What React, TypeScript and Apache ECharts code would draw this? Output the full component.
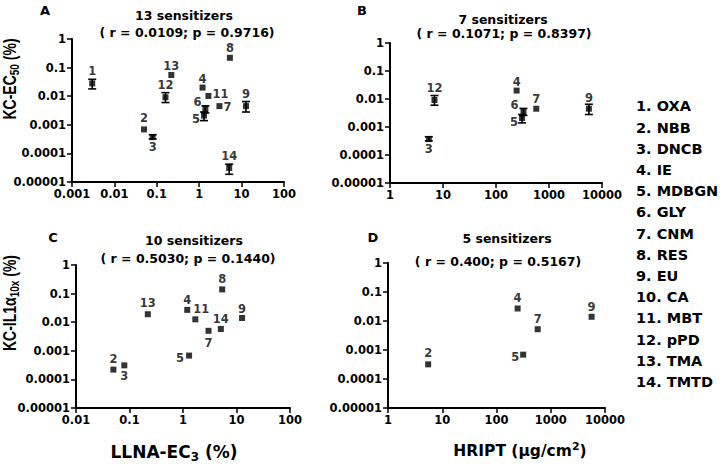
import React, { useEffect, useRef } from "react";
import * as echarts from "echarts";

// ---------- data ----------
const compoundNames = ["OXA", "NBB", "DNCB", "IE", "MDBGN", "GLY", "CNM", "RES", "EU", "CA", "MBT", "pPD", "TMA", "TMTD"];

const llnaTicks = ["0.001", "0.01", "0.1", "1", "10", "100"];
const llnaTicksC = ["0.01", "0.1", "1", "10", "100"];
const hriptTicks = ["1", "10", "100", "1000", "10000"];
const kcTicks = ["0.00001", "0.0001", "0.001", "0.01", "0.1", "1"];

// Panel A: LLNA-EC3 vs KC-EC50
const aIds = [1, 2, 3, 4, 5, 6, 7, 8, 9, 11, 12, 13, 14];
const aLLNA = [0.003, 0.05, 0.08, 1.2, 1.3, 1.4, 3.0, 5.3, 12.7, 1.65, 0.16, 0.22, 5.1];
const aKC = [0.028, 0.00069, 0.00037, 0.02, 0.0021, 0.0036, 0.0045, 0.22, 0.0045, 0.0102, 0.0092, 0.055, 0.000031];
const aErrLow = [0.018, null, 0.00032, null, 0.0014, 0.0026, null, null, 0.0028, null, 0.006, null, 0.0000186];
const aErrHigh = [0.039, null, 0.00045, null, 0.0028, 0.0046, null, null, 0.0065, null, 0.0133, null, 0.000042];

// Panel B: HRIPT vs KC-EC50
const bIds = [3, 12, 4, 5, 6, 7, 9];
const bHRIPT = [5.4, 6.9, 245, 310, 330, 575, 5660];
const bKC = [0.00037, 0.0092, 0.02, 0.0021, 0.0036, 0.0045, 0.0045];
const bErrLow = [0.00032, 0.006, null, 0.0014, 0.0026, null, 0.0028];
const bErrHigh = [0.00045, 0.0133, null, 0.0028, 0.0046, null, 0.0065];

// Panel C: LLNA-EC3 vs KC-IL1a10x
const cIds = [2, 3, 13, 4, 11, 5, 7, 14, 8, 9];
const cLLNA = [0.05, 0.08, 0.22, 1.2, 1.7, 1.3, 3.0, 5.1, 5.4, 12.7];
const cIL1 = [0.00022, 0.00031, 0.019, 0.027, 0.0126, 0.00068, 0.005, 0.0058, 0.14, 0.014];

// Panel D: HRIPT vs KC-IL1a10x
const dIds = [2, 4, 5, 7, 9];
const dHRIPT = [5.5, 245, 310, 575, 5660];
const dIL1 = [0.00032, 0.027, 0.00069, 0.0052, 0.014];

const panelLetters = ["A", "B", "C", "D"];
const titleLine1 = ["13 sensitizers", "7 sensitizers", "10 sensitizers", "5 sensitizers"];
const titleLine2 = ["( r = 0.0109; p = 0.9716)", "( r = 0.1071; p = 0.8397)", "( r = 0.5030; p = 0.1440)", "( r = 0.400; p = 0.5167)"];

// ---------- layout ----------
const FONT = "'DejaVu Sans', sans-serif";
const ARIAL = "'Liberation Sans', Arial, sans-serif";
const GRIDS = [
  { left: 72, top: 39, width: 212, height: 143 },
  { left: 390, top: 43, width: 212, height: 140 },
  { left: 76, top: 265, width: 214, height: 143 },
  { left: 388, top: 263, width: 217, height: 145 },
];
const LETTER_POS = [[45, 10], [362, 10], [53, 237], [373, 237]];
const TITLE1_POS = [[184, 15], [503, 19], [194, 240], [507, 238]];
const TITLE2_POS = [[187, 32], [504, 33], [188, 258], [498, 261]];
const LABEL_OFFSETS = [
  [[0, -12], [0, -11], [0, 10], [0, -9], [-8, 3], [-8, -7], [8, 1], [0, -10], [0, -12], [12, -2], [0, -12], [0, -9.5], [0, -12]],
  [[0, 10], [0, -12], [0, -9], [-8, 4], [-9, -6], [0, -10], [0, -11]],
  [[0, -11], [0, 11], [0, -11], [0, -9.5], [6, -10], [-9, 2], [0, 12.5], [0, -10], [0, -10], [0, -9]],
  [[0, -11], [0, -10.5], [-8, 2.5], [0, -10], [0, -10]],
];

function logAxis(gridIndex: number, min: number, max: number, ticks: string[]) {
  const lmin = Math.log10(min);
  return {
    type: "log",
    logBase: 10,
    gridIndex,
    min,
    max,
    splitNumber: Math.round(Math.log10(max / min)),
    axisLine: { show: true, onZero: false, lineStyle: { color: "#000", width: 2 } },
    axisTick: { show: true, inside: false, length: 5, lineStyle: { color: "#000", width: 1.5 } },
    minorTick: { show: false },
    splitLine: { show: false },
    axisLabel: {
      interval: 0,
      margin: 6,
      color: "#000",
      fontFamily: FONT,
      fontWeight: "bold",
      fontSize: 11.5,
      formatter: (v: number) => ticks[Math.round(Math.log10(v) - lmin)] ?? "",
    },
  };
}

function scatter(k: number, ids: number[], xs: number[], ys: number[]) {
  return {
    type: "scatter",
    xAxisIndex: k,
    yAxisIndex: k,
    symbol: "rect",
    symbolSize: 6,
    itemStyle: { color: "#000" },
    emphasis: { disabled: true },
    z: 4,
    label: {
      show: true,
      position: "inside",
      color: "#000",
      fontFamily: FONT,
      fontWeight: "bold",
      fontSize: 11.5,
      formatter: (p: any) => String(ids[p.dataIndex]),
    },
    data: ids.map((id, i) => ({ value: [xs[i], ys[i]], label: { offset: LABEL_OFFSETS[k][i] } })),
  };
}

function errorBars(k: number, xs: number[], lo: (number | null)[], hi: (number | null)[]) {
  const data: number[][] = [];
  xs.forEach((x, i) => {
    if (lo[i] != null && hi[i] != null) data.push([x, lo[i] as number, hi[i] as number]);
  });
  return {
    type: "custom",
    xAxisIndex: k,
    yAxisIndex: k,
    z: 3,
    silent: true,
    encode: { x: 0, y: [1, 2] },
    data,
    renderItem: (params: any, api: any) => {
      const x = api.value(0);
      const pLo = api.coord([x, api.value(1)]);
      const pHi = api.coord([x, api.value(2)]);
      const w = 4;
      const st = { stroke: "#000", lineWidth: 1.6 };
      return {
        type: "group",
        children: [
          { type: "line", shape: { x1: pLo[0], y1: pLo[1], x2: pHi[0], y2: pHi[1] }, style: st },
          { type: "line", shape: { x1: pLo[0] - w, y1: pLo[1], x2: pLo[0] + w, y2: pLo[1] }, style: st },
          { type: "line", shape: { x1: pHi[0] - w, y1: pHi[1], x2: pHi[0] + w, y2: pHi[1] }, style: st },
        ],
      };
    },
  };
}

function hText(text: string, x: number, y: number, size: number, align = "center") {
  return {
    type: "text",
    x,
    y,
    style: { text, fill: "#000", font: `bold ${size}px ${FONT}`, align, verticalAlign: "middle" },
  };
}

function richText(text: string, x: number, y: number, size: number, subSize: number, family: string, rotate: boolean) {
  return {
    type: "text",
    x,
    y,
    rotation: rotate ? Math.PI / 2 : 0,
    scaleY: rotate ? 1.25 : 1,
    style: {
      text,
      align: "center",
      verticalAlign: "middle",
      fill: "#000",
      rich: {
        a: { fontSize: size, fontFamily: family, fontWeight: "bold", color: "#000", lineHeight: size + 4 },
        s: { fontSize: subSize, fontFamily: family, fontWeight: "bold", color: "#000", lineHeight: subSize, verticalAlign: "bottom" },
        p: { fontSize: subSize, fontFamily: family, fontWeight: "bold", color: "#000", lineHeight: subSize, verticalAlign: "top" },
      },
    },
  };
}

export default function App() {
  const ref = useRef<HTMLDivElement>(null);
  useEffect(() => {
    if (!ref.current) return;
    const chart = echarts.init(ref.current, null, { renderer: "svg" });

    const graphics: any[] = [];
    for (let k = 0; k < 4; k++) {
      graphics.push(hText(panelLetters[k], LETTER_POS[k][0], LETTER_POS[k][1], 13));
      graphics.push(hText(titleLine1[k], TITLE1_POS[k][0], TITLE1_POS[k][1], 12.5));
      graphics.push(hText(titleLine2[k], TITLE2_POS[k][0], TITLE2_POS[k][1], 12.5));
    }
    compoundNames.forEach((n, i) => {
      graphics.push(hText(`${i + 1}. ${n}`, 636, 106.3 + 21.2 * i, 14.5, "left"));
    });
    graphics.push(richText("{a|KC-EC}{s|50}{a| (%)}", 10, 79, 14, 10, ARIAL, true));
    graphics.push(richText("{a|KC-IL1α}{s|10x}{a| (%)}", 10, 303, 14, 10, ARIAL, true));
    graphics.push(richText("{a|LLNA-EC}{s|3}{a| (%)}", 174, 452, 17, 12, FONT, false));
    graphics.push(richText("{a|HRIPT (μg/cm}{p|2}{a|)}", 520, 451, 15.5, 11, FONT, false));

    chart.setOption({
      animation: false,
      backgroundColor: "#fff",
      grid: GRIDS.map((g) => ({ ...g, containLabel: false, outerBoundsMode: "none" })),
      xAxis: [
        logAxis(0, 0.001, 100, llnaTicks),
        logAxis(1, 1, 10000, hriptTicks),
        logAxis(2, 0.01, 100, llnaTicksC),
        logAxis(3, 1, 10000, hriptTicks),
      ],
      yAxis: [
        logAxis(0, 0.00001, 1, kcTicks),
        logAxis(1, 0.00001, 1, kcTicks),
        logAxis(2, 0.00001, 1, kcTicks),
        logAxis(3, 0.00001, 1, kcTicks),
      ],
      series: [
        errorBars(0, aLLNA, aErrLow, aErrHigh),
        scatter(0, aIds, aLLNA, aKC),
        errorBars(1, bHRIPT, bErrLow, bErrHigh),
        scatter(1, bIds, bHRIPT, bKC),
        scatter(2, cIds, cLLNA, cIL1),
        scatter(3, dIds, dHRIPT, dIL1),
      ],
      graphic: graphics,
    });
    return () => chart.dispose();
  }, []);
  return <div ref={ref} style={{ position: "fixed", left: 0, top: 0, width: 722, height: 465, background: "#fff" }} />;
}
